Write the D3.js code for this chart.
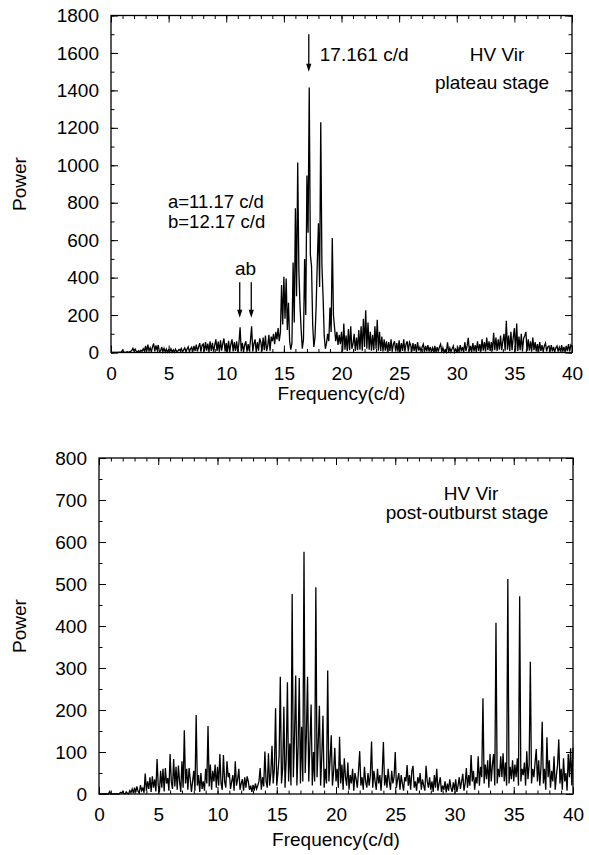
<!DOCTYPE html>
<html>
<head>
<meta charset="utf-8">
<script src="https://cdn.jsdelivr.net/npm/d3@7"></script>
<style>
body { margin: 0; background: #fff; }
</style>
</head>
<body>
<script>
const svgWidth = 589
const svgHeight = 855
const fontFamily = "Liberation Sans, Arial, Helvetica, sans-serif"
const fontSize = 19

// frequency grid of the periodogram, 0 .. 40 c/d in 0.1 c/d steps
const freq = d3.range(401).map(i => i / 10)
const freqTicks = [0, 5, 10, 15, 20, 25, 30, 35, 40]
const topPowerTicks = [0, 200, 400, 600, 800, 1000, 1200, 1400, 1600, 1800]
const bottomPowerTicks = [0, 100, 200, 300, 400, 500, 600, 700, 800]

// plateau stage, one row per 1 c/d
const topPower = [
    0, 0, 1, 0, 1, 0, 1, 2, 1, 3,
    12, 3, 1, 2, 4, 1, 3, 6, 10, 22,
    8, 18, 5, 3, 10, 4, 12, 6, 20, 8,
    35, 5, 42, 8, 25, 3, 30, 48, 6, 38,
    12, 40, 5, 8, 30, 4, 22, 3, 18, 2,
    15, 2, 20, 3, 14, 2, 18, 4, 8, 16,
    10, 22, 3, 14, 25, 4, 18, 30, 5, 20,
    28, 5, 35, 8, 42, 6, 30, 50, 4, 38,
    45, 6, 55, 10, 48, 3, 60, 8, 52, 5,
    40, 70, 8, 58, 4, 65, 10, 48, 75, 6,
    50, 5, 62, 3, 45, 70, 6, 55, 8, 60,
    4, 48, 135, 6, 52, 3, 40, 60, 5, 45,
    8, 62, 140, 5, 48, 70, 3, 55, 10, 75,
    55, 6, 80, 12, 90, 8, 35, 95, 10, 85,
    60, 100, 45, 110, 70, 130, 60, 110, 360, 150,
    405, 180, 395, 120, 265, 60, 15, 50, 480, 160,
    770, 300, 1015, 440, 250, 120, 20, 70, 500, 200,
    945, 640, 1415, 520, 460, 150, 30, 80, 250, 480,
    690, 350, 1230, 470, 300, 90, 20, 50, 100, 60,
    240, 110, 612, 200, 130, 60, 110, 40, 95, 45,
    110, 10, 155, 15, 90, 8, 125, 12, 140, 20,
    45, 100, 8, 80, 12, 120, 15, 140, 10, 180,
    30, 225, 20, 160, 15, 110, 10, 95, 12, 140,
    20, 175, 10, 110, 8, 85, 6, 70, 10, 60,
    5, 55, 8, 70, 4, 45, 60, 6, 50, 5,
    65, 4, 50, 8, 70, 5, 45, 60, 6, 55,
    40, 5, 50, 8, 45, 3, 55, 10, 28, 6,
    30, 45, 4, 35, 6, 40, 5, 30, 3, 25,
    4, 35, 2, 28, 5, 30, 45, 3, 25, 2,
    15, 3, 55, 2, 25, 4, 20, 35, 3, 18,
    5, 25, 3, 40, 6, 30, 2, 55, 8, 35,
    78, 5, 35, 4, 50, 6, 40, 3, 60, 8,
    45, 6, 70, 10, 55, 5, 80, 12, 60, 8,
    55, 10, 105, 12, 80, 8, 70, 15, 90, 12,
    60, 100, 10, 170, 15, 90, 8, 110, 12, 80,
    130, 10, 155, 8, 85, 12, 100, 6, 75, 90,
    110, 8, 70, 10, 60, 5, 80, 12, 55, 6,
    45, 5, 55, 8, 40, 4, 35, 50, 6, 30,
    35, 4, 40, 6, 30, 3, 25, 35, 5, 28,
    6, 40, 5, 30, 3, 35, 8, 45, 6, 40,
    30
]

// post-outburst stage, one row per 1 c/d
const bottomPower = [
    0, 0, 0, 0, 0, 0, 0, 0, 0, 6,
    0, 0, 0, 0, 0, 0, 0, 0, 4, 2,
    6, 1, 0, 5, 2, 0, 8, 3, 12, 2,
    15, 4, 18, 6, 2, 21, 8, 14, 3, 49,
    8, 30, 12, 40, 5, 42, 15, 35, 6, 83,
    20, 4, 55, 15, 60, 6, 62, 25, 38, 8,
    95, 30, 12, 83, 18, 65, 10, 68, 30, 5,
    78, 15, 152, 25, 60, 10, 62, 35, 5, 30,
    55, 8, 188, 20, 45, 5, 50, 12, 30, 8,
    60, 25, 162, 18, 70, 10, 55, 30, 70, 15,
    65, 20, 95, 25, 10, 93, 30, 15, 78, 40,
    50, 12, 30, 45, 8, 78, 20, 35, 60, 10,
    25, 35, 8, 40, 15, 42, 30, 10, 20, 5,
    22, 8, 25, 12, 20, 30, 62, 10, 40, 18,
    101, 30, 15, 97, 20, 50, 115, 25, 60, 204,
    20, 50, 90, 279, 25, 60, 208, 15, 85, 266,
    30, 120, 20, 476, 40, 140, 282, 20, 110, 276,
    25, 160, 30, 577, 50, 140, 279, 30, 120, 213,
    20, 100, 30, 492, 40, 120, 210, 20, 90, 186,
    15, 60, 25, 294, 30, 80, 140, 20, 55, 110,
    30, 60, 15, 136, 25, 70, 10, 85, 40, 20,
    75, 10, 45, 25, 60, 8, 50, 35, 15, 55,
    102, 20, 40, 10, 65, 30, 15, 50, 20, 45,
    125, 15, 55, 30, 10, 60, 25, 45, 8, 50,
    124, 20, 45, 15, 60, 30, 10, 55, 25, 40,
    100, 15, 35, 50, 10, 45, 25, 8, 40, 30,
    69, 20, 45, 10, 55, 67, 15, 30, 8, 40,
    25, 50, 10, 35, 20, 8, 67, 30, 15, 40,
    10, 30, 5, 45, 15, 60, 8, 25, 40, 5,
    20, 10, 30, 4, 25, 8, 35, 15, 5, 28,
    10, 35, 5, 20, 40, 12, 30, 48, 8, 25,
    62, 15, 45, 20, 93, 30, 55, 10, 40, 25,
    90, 20, 65, 40, 228, 25, 70, 35, 80, 15,
    95, 30, 70, 95, 20, 408, 25, 60, 40, 90,
    40, 97, 30, 75, 20, 512, 25, 65, 35, 80,
    30, 70, 40, 85, 20, 471, 30, 60, 45, 75,
    20, 102, 35, 70, 315, 25, 60, 40, 75, 107,
    30, 80, 20, 65, 172, 25, 60, 10, 135, 40,
    80, 15, 55, 30, 90, 10, 45, 70, 130, 25,
    60, 10, 85, 30, 50, 8, 95, 40, 109, 20,
    110
]

const mainPeak = 17.161
const aliasA = 11.17
const aliasB = 12.17

const svg = d3.select("body").append("svg")
    .attr("width", svgWidth)
    .attr("height", svgHeight)

function styleAxis(sel) {
    sel.attr("font-size", fontSize).attr("font-family", fontFamily)
    sel.select(".domain").remove()
    sel.selectAll(".tick line").attr("stroke", "#000").attr("stroke-width", 1)
    sel.selectAll(".tick text").attr("fill", "#000")
}

function drawPanel(p) {
    const w = p.right - p.left
    const h = p.bottom - p.top
    const g = svg.append("g").attr("transform", `translate(${p.left}, ${p.top})`)

    const x = d3.scaleLinear().domain([0, 40]).range([0, w])
    const y = d3.scaleLinear().domain([0, p.yMax]).range([h, 0])
    const minorX = d3.range(0, 41, 1)
    const minorY = d3.range(0, p.yMax + 1, p.yMinor)

    // x axes (bottom with labels, top mirrored), ticks inward
    g.append("g").attr("transform", `translate(0, ${h})`)
        .call(d3.axisBottom(x).tickValues(minorX).tickSize(-3.5).tickFormat(""))
        .call(styleAxis)
    g.append("g").attr("transform", `translate(0, ${h})`)
        .call(d3.axisBottom(x).tickValues(freqTicks).tickSize(-7).tickPadding(14).tickFormat(d3.format("d")))
        .call(styleAxis)
    g.append("g")
        .call(d3.axisTop(x).tickValues(minorX).tickSize(-3.5).tickFormat(""))
        .call(styleAxis)
    g.append("g")
        .call(d3.axisTop(x).tickValues(freqTicks).tickSize(-7).tickFormat(""))
        .call(styleAxis)

    // y axes
    g.append("g")
        .call(d3.axisLeft(y).tickValues(minorY).tickSize(-3.5).tickFormat(""))
        .call(styleAxis)
    g.append("g")
        .call(d3.axisLeft(y).tickValues(p.yTicks).tickSize(-7).tickPadding(12).tickFormat(d3.format("d")))
        .call(styleAxis)
    g.append("g").attr("transform", `translate(${w}, 0)`)
        .call(d3.axisRight(y).tickValues(minorY).tickSize(-3.5).tickFormat(""))
        .call(styleAxis)
    g.append("g").attr("transform", `translate(${w}, 0)`)
        .call(d3.axisRight(y).tickValues(p.yTicks).tickSize(-7).tickFormat(""))
        .call(styleAxis)

    const line = d3.line()
        .x((d, i) => x(freq[i]))
        .y(d => y(d))

    g.append("path")
        .attr("d", line(p.power))
        .attr("fill", "none")
        .attr("stroke", "#000")
        .attr("stroke-width", 1.3)

    g.append("rect")
        .attr("width", w)
        .attr("height", h)
        .attr("fill", "none")
        .attr("stroke", "#000")
        .attr("stroke-width", 1.3)

    const label = (tx, ty, str, anchor, size) => g.append("text")
        .attr("x", tx)
        .attr("y", ty)
        .attr("text-anchor", anchor || "start")
        .attr("font-size", size || fontSize)
        .attr("font-family", fontFamily)
        .text(str)

    label(w / 2, h + p.xTitleGap, "Frequency(c/d)", "middle")

    g.append("text")
        .attr("transform", `translate(${25.5 - p.left}, ${h / 2}) rotate(-90)`)
        .attr("text-anchor", "middle")
        .attr("font-size", fontSize)
        .attr("font-family", fontFamily)
        .text("Power")

    return { g, x, y, label }
}

function arrow(g, xv, y0, y1) {
    g.append("line")
        .attr("x1", xv).attr("x2", xv)
        .attr("y1", y0).attr("y2", y1 - 4)
        .attr("stroke", "#000")
        .attr("stroke-width", 1.3)
    g.append("path")
        .attr("d", `M${xv - 2.6},${y1 - 8} L${xv + 2.6},${y1 - 8} L${xv},${y1} Z`)
        .attr("fill", "#000")
}

// top panel: plateau stage
const plateau = drawPanel({
    left: 111, right: 572, top: 15.5, bottom: 352.5,
    yMax: 1800, yMinor: 100, yTicks: topPowerTicks,
    power: topPower, xTitleGap: 47
})
arrow(plateau.g, plateau.x(mainPeak), plateau.y(1700), plateau.y(1500))
plateau.label(plateau.x(mainPeak) + 11, 45.5, "17.161 c/d")
plateau.label(386, 45.5, "HV Vir", "middle")
plateau.label(381, 73.5, "plateau stage", "middle")
plateau.label(57, 192, "a=11.17 c/d", "start", 18.5)
plateau.label(57, 212, "b=12.17 c/d", "start", 18.5)
plateau.label((plateau.x(aliasA) + plateau.x(aliasB)) / 2, 259.5, "ab", "middle")
arrow(plateau.g, plateau.x(aliasA), plateau.y(375), plateau.y(185))
arrow(plateau.g, plateau.x(aliasB), plateau.y(375), plateau.y(185))

// bottom panel: post-outburst stage
const outburst = drawPanel({
    left: 99, right: 573, top: 458, bottom: 794,
    yMax: 800, yMinor: 50, yTicks: bottomPowerTicks,
    power: bottomPower, xTitleGap: 52
})
outburst.label(372, 42, "HV Vir", "middle")
outburst.label(368, 61, "post-outburst stage", "middle")
</script>
</body>
</html>
